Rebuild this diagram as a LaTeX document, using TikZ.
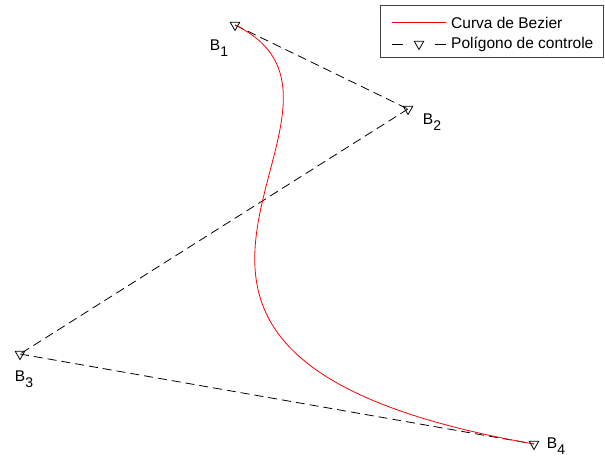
\documentclass[tikz,border=0pt]{standalone}
\usepackage{fontspec}
\setmainfont{Liberation Sans}
\usetikzlibrary{shapes.geometric}
\newcommand{\indice}[1]{\raisebox{-0.4em}{\fontsize{14}{16}\selectfont #1}}
\tikzset{
  marca/.style={draw=black,regular polygon,regular polygon sides=3,
    shape border rotate=180,minimum size=11pt,inner sep=0pt,line width=0.8pt},
  poligono/.style={dash pattern=on 9pt off 5pt,line width=0.8pt},
  rotulo/.style={font=\fontsize{15.5}{18}\selectfont,inner sep=1pt}
}

\begin{document}
\begin{tikzpicture}[x=1pt,y=-1pt]
  \useasboundingbox (0,0) rectangle (605,457);
  % pontos de controle
  \coordinate (B_1) at (235,25);
  \coordinate (B_2) at (408,109);
  \coordinate (B_3) at (20,354);
  \coordinate (B_4) at (534,444);

  % poligono de controle
  \draw[poligono] (B_1) -- (B_2);
  \draw[poligono] (B_2) -- (B_3);
  \draw[poligono] (B_3) -- (B_4);

  % curva de Bezier
  \draw[red,line width=0.8pt] (B_1) .. controls (B_2) and (B_3) .. (B_4);

  % marcas
  \node[marca] (m1) at (B_1) {};
  \node[marca] (m2) at (B_2) {};
  \node[marca] (m3) at (B_3) {};
  \node[marca] (m4) at (B_4) {};

  % rotulos
  \node[rotulo] (r1) at (219,48) {B\indice{1}};
  \node[rotulo] (r2) at (432,122) {B\indice{2}};
  \node[rotulo] (r3) at (24,379) {B\indice{3}};
  \node[rotulo] (r4) at (556,446) {B\indice{4}};

  % legenda
  \draw[black!75,line width=0.8pt] (380,5) rectangle (603,57);
  \coordinate (l1a) at (392,23);
  \coordinate (l1b) at (446,23);
  \draw[red,line width=1pt] (l1a) -- (l1b);
  \node[rotulo,anchor=west] (t1) at (450,23) {Curva de Bezier};
  \coordinate (l2a) at (392,44);
  \coordinate (l2b) at (446,44);
  \draw[poligono,dash pattern=on 11pt off 32pt] (l2a) -- (l2b);
  \node[marca] (m5) at (419,44) {};
  \node[rotulo,anchor=west] (t2) at (450,44) {Polígono de controle};
\end{tikzpicture}
\end{document}
